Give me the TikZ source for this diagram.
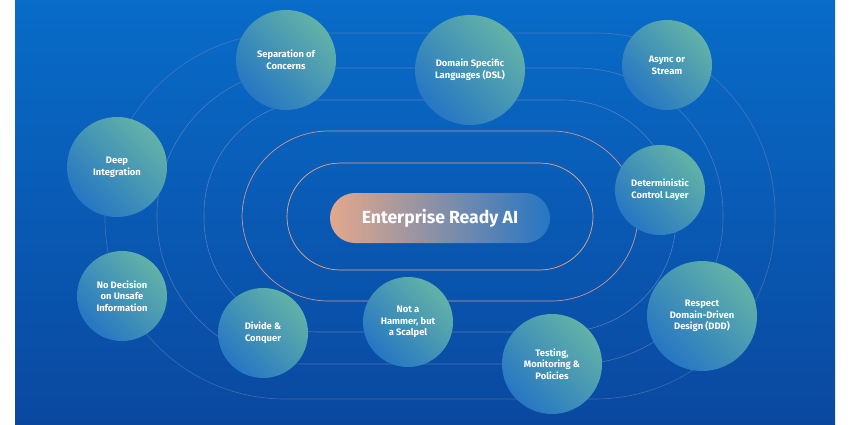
\documentclass[tikz,border=0pt]{standalone}
\usepackage{fontspec}
\setmainfont{Fira Sans}
\usetikzlibrary{positioning}
\definecolor{bgtop}{RGB}{8,108,200}
\definecolor{bgbot}{RGB}{10,72,160}
\definecolor{teal}{RGB}{98,178,168}
\definecolor{bblue}{RGB}{38,118,196}
\definecolor{peach}{RGB}{228,168,140}
\definecolor{track}{RGB}{120,140,190}
\definecolor{trackin}{RGB}{200,150,150}
\tikzset{
  topic/.style={circle, draw=none, minimum size=#1, inner sep=0pt, align=center,
    top color=teal, bottom color=bblue, shading angle=315,
    text=white, font=\fontsize{8}{10}\selectfont\bfseries},
  topic/.default=2.7cm,
  ring/.style={draw=track, line width=0.5pt, rounded corners=#1},
}
\begin{document}
\begin{tikzpicture}[x=0.03cm, y=-0.03cm]
	\useasboundingbox (0,0) rectangle (850,425);
	\shade[top color=bgtop, bottom color=bgbot] (15,0) rectangle (835,425);
	% tracks
	\draw[ring=5.4cm, opacity=0.5] (105,33) rectangle (775,399);
	\draw[ring=4.4cm, opacity=0.6] (157,68) rectangle (723,364);
	\draw[ring=3.4cm, opacity=0.7] (204,100) rectangle (676,332);
	\draw[draw=trackin, line width=0.6pt, rounded corners=2.6cm] (242,131) rectangle (638,301);
	\draw[draw=peach, line width=0.6pt, rounded corners=1.6cm] (287,163) rectangle (593,270);
	% centre
	\node[minimum width=6.6cm, minimum height=1.5cm, rounded corners=0.75cm, inner sep=0pt,
	  left color=peach, right color=bblue, text=white,
	  font=\fontsize{15}{18}\selectfont\bfseries] (core) at (440,218) {Enterprise Ready AI};
	% topics
	\node[topic=3cm] (soc) at (286,60) {Separation of\\Concerns};
	\node[topic=3.3cm] (dsl) at (470,70) {Domain Specific\\Languages (DSL)};
	\node[topic=2.7cm] (async) at (667,65) {Async or\\Stream};
	\node[topic=3cm] (deep) at (117,167) {Deep\\Integration};
	\node[topic=2.7cm] (det) at (660,190) {Deterministic\\Control Layer};
	\node[topic=2.7cm] (unsafe) at (122,296) {No Decision\\on Unsafe\\Information};
	\node[topic=2.7cm] (divide) at (263,333) {Divide \&\\Conquer};
	\node[topic=2.7cm] (hammer) at (408,322) {Not a\\Hammer, but\\a Scalpel};
	\node[topic=3cm] (test) at (552,364) {Testing,\\Monitoring \&\\Policies};
	\node[topic=3.3cm] (ddd) at (702,316) {Respect\\Domain-Driven\\Design (DDD)};
\end{tikzpicture}
\end{document}
